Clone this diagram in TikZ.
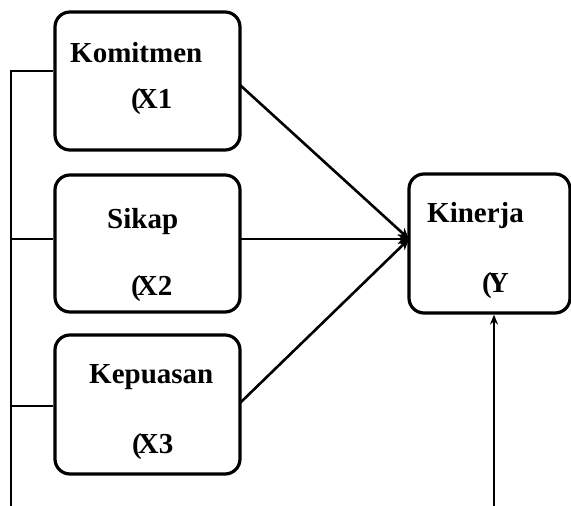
\documentclass[tikz,border=0pt]{standalone}
\usepackage{fontspec}
\setmainfont{Liberation Serif}
\usetikzlibrary{arrows.meta,calc}
\newcommand{\opx}{(\kern-4pt}
\begin{document}
\begin{tikzpicture}[x=1pt,y=-1pt,
  box/.style={draw,line width=3.2pt,rounded corners=15pt,inner sep=0pt},
  lbl/.style={anchor=base west,inner sep=0pt,font=\fontsize{29}{32}\selectfont\bfseries},
  conn/.style={line width=2.8pt},
  arr/.style={line width=2.6pt,-{Stealth[length=11pt,width=10pt]}},
  thinarr/.style={line width=1.8pt,-{Stealth[length=10pt,width=8pt]}}]
\useasboundingbox (0,0) rectangle (571,506);
% boxes
\node[box,minimum width=185pt,minimum height=138pt] (b1) at (147.5,81) {};
\node[box,minimum width=185pt,minimum height=137pt] (b2) at (147.5,243.5) {};
\node[box,minimum width=185pt,minimum height=139pt] (b3) at (147.5,404.5) {};
\node[box,minimum width=161pt,minimum height=139pt] (k) at (489.5,243.5) {};
% labels
\node[lbl] (t1) at (70,62) {Komitmen};
\node[lbl] (t1b) at (131,108) {\opx X1};
\node[lbl] (t2) at (107,228) {Sikap};
\node[lbl] (t2b) at (131,295) {\opx X2};
\node[lbl] (t3) at (89,383) {Kepuasan};
\node[lbl] (t3b) at (132,453) {\opx X3};
\node[lbl] (tk) at (427,222) {Kinerja};
\node[lbl] (tkb) at (482,292) {\opx Y};
% left bus
\coordinate (top) at (11,71);
\coordinate (bot) at (11,507);
\draw[conn] (bot) -- (top) -- (top -| b1.west);
\coordinate (m2) at (11,239);
\coordinate (m3) at (11,406);
\draw[conn] (m2) -- (m2 -| b2.west);
\draw[conn] (m3) -- (m3 -| b3.west);
% arrows to Kinerja
\coordinate (tgt) at (409,239);
\coordinate (s1) at (240,85);
\coordinate (s2) at (240,239);
\coordinate (s3) at (240,403);
\draw[arr] (s1) -- (tgt);
\draw[arr] (s2) -- (tgt);
\draw[arr] (s3) -- (tgt);
% bottom arrow
\coordinate (yb) at (494,507);
\draw[thinarr] (yb) -- (yb |- k.south);
\end{tikzpicture}
\end{document}
